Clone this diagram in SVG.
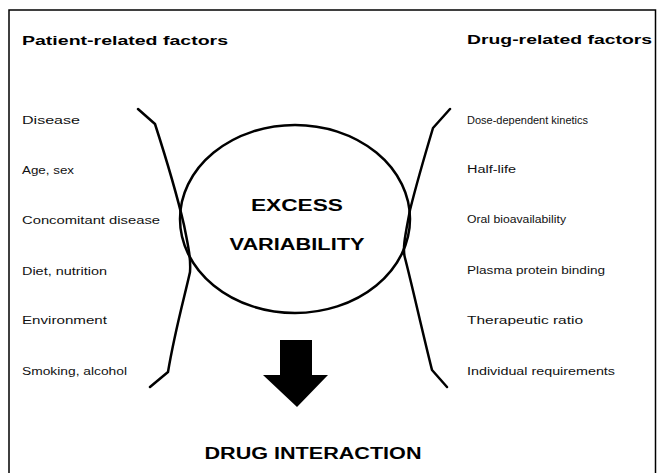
<svg xmlns="http://www.w3.org/2000/svg" width="657" height="473" viewBox="0 0 657 473">
<style>
.hdr{font-family:"Liberation Sans",Arial,sans-serif;font-size:13px;font-weight:bold;fill:#000}
.lbl{font-family:"Liberation Sans",Arial,sans-serif;font-size:10px;fill:#111}
.big{font-family:"Liberation Sans",Arial,sans-serif;font-size:16px;font-weight:bold;fill:#000;text-anchor:middle}
.ln{fill:none;stroke:#000;stroke-width:2.5;stroke-linejoin:round;stroke-linecap:round}
</style>
<rect x="0" y="0" width="657" height="473" fill="#fff"/>
<path d="M9,480 L9,10 L655.5,10 L655.5,480" fill="none" stroke="#000" stroke-width="1.5"/>
<g id="headers">
<text class="hdr" x="22" y="45" textLength="206" lengthAdjust="spacingAndGlyphs">Patient-related factors</text>
<text class="hdr" x="467" y="44" textLength="185" lengthAdjust="spacingAndGlyphs">Drug-related factors</text>
</g>
<g id="patient-factors">
<text class="lbl" x="22" y="124" textLength="58" lengthAdjust="spacingAndGlyphs">Disease</text>
<text class="lbl" x="22" y="174" textLength="52" lengthAdjust="spacingAndGlyphs">Age, sex</text>
<text class="lbl" x="22" y="224" textLength="138" lengthAdjust="spacingAndGlyphs">Concomitant disease</text>
<text class="lbl" x="22" y="275" textLength="85" lengthAdjust="spacingAndGlyphs">Diet, nutrition</text>
<text class="lbl" x="22" y="324" textLength="85" lengthAdjust="spacingAndGlyphs">Environment</text>
<text class="lbl" x="22" y="375" textLength="105" lengthAdjust="spacingAndGlyphs">Smoking, alcohol</text>
</g>
<g id="drug-factors">
<text class="lbl" x="467" y="124" textLength="121" lengthAdjust="spacingAndGlyphs">Dose-dependent kinetics</text>
<text class="lbl" x="467" y="173" textLength="49" lengthAdjust="spacingAndGlyphs">Half-life</text>
<text class="lbl" x="467" y="223" textLength="99" lengthAdjust="spacingAndGlyphs">Oral bioavailability</text>
<text class="lbl" x="467" y="274" textLength="138" lengthAdjust="spacingAndGlyphs">Plasma protein binding</text>
<text class="lbl" x="467" y="324" textLength="116" lengthAdjust="spacingAndGlyphs">Therapeutic ratio</text>
<text class="lbl" x="467" y="375" textLength="148" lengthAdjust="spacingAndGlyphs">Individual requirements</text>
</g>
<g id="connectors">
<path class="ln" d="M138,109 L155,124 C165,155 177,195 184,225 C188,245 191,258 190,272 C185,295 175,330 168,372 L150,387"/>
<path class="ln" d="M450,109 L433,128 C424,158 415,190 410,210 C406,232 402,248 405,258 C412,285 422,330 432,370 L447,387"/>
</g>
<g id="excess-variability">
<ellipse cx="295" cy="219" rx="115" ry="94" fill="none" stroke="#000" stroke-width="2.5"/>
<text class="big" x="297" y="211" textLength="92" lengthAdjust="spacingAndGlyphs">EXCESS</text>
<text class="big" x="297" y="250" textLength="135" lengthAdjust="spacingAndGlyphs">VARIABILITY</text>
</g>
<g id="arrow">
<polygon points="280,340 312,340 312,375 328,375 297,407 263,375 280,375" fill="#000"/>
</g>
<g id="drug-interaction">
<text class="big" x="313" y="459" font-size="17" textLength="217" lengthAdjust="spacingAndGlyphs">DRUG INTERACTION</text>
</g>
</svg>
